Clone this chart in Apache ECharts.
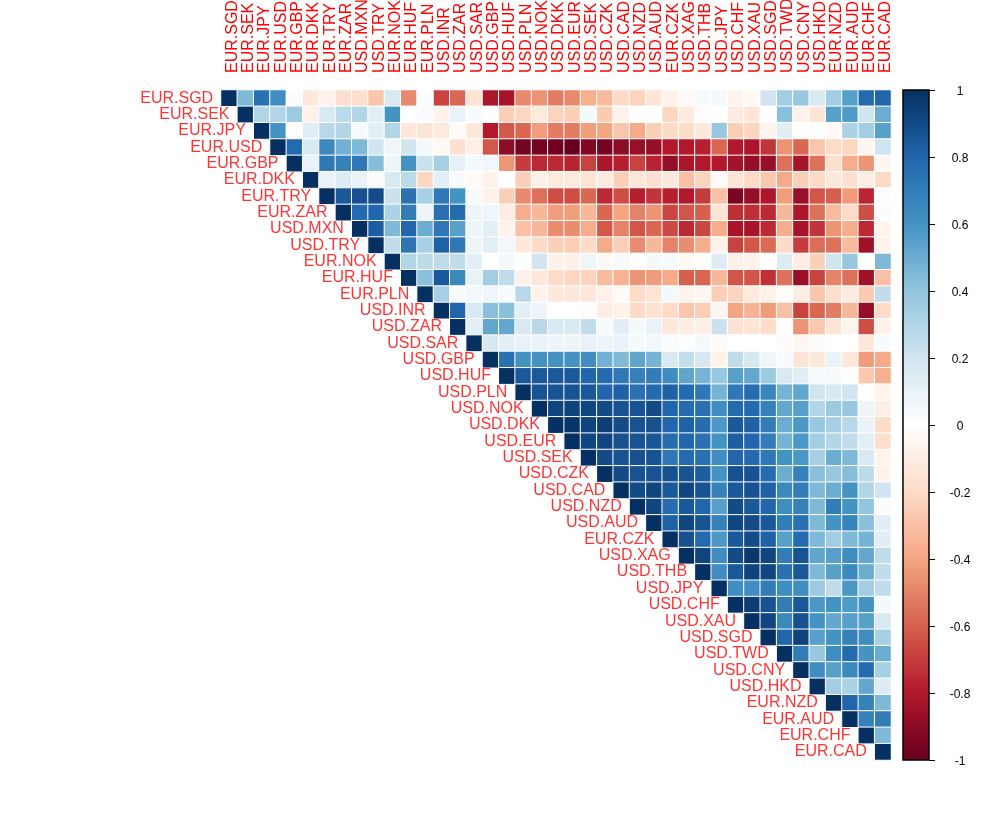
<!DOCTYPE html>
<html>
<head>
<meta charset="utf-8">
<title>Correlation matrix</title>
<script src="https://cdn.jsdelivr.net/npm/echarts@6/dist/echarts.min.js"></script>
<style>
    html, body { margin: 0; padding: 0; background: #fff; }
    #chart { width: 991px; height: 831px; }
</style>
</head>
<body>
<div id="chart"></div>
<script>
'use strict'

var labels = [
    'EUR.SGD', 'EUR.SEK', 'EUR.JPY', 'EUR.USD', 'EUR.GBP', 'EUR.DKK', 'EUR.TRY', 'EUR.ZAR', 'USD.MXN',
    'USD.TRY', 'EUR.NOK', 'EUR.HUF', 'EUR.PLN', 'USD.INR', 'USD.ZAR', 'USD.SAR', 'USD.GBP', 'USD.HUF',
    'USD.PLN', 'USD.NOK', 'USD.DKK', 'USD.EUR', 'USD.SEK', 'USD.CZK', 'USD.CAD', 'USD.NZD', 'USD.AUD',
    'EUR.CZK', 'USD.XAG', 'USD.THB', 'USD.JPY', 'USD.CHF', 'USD.XAU', 'USD.SGD', 'USD.TWD', 'USD.CNY',
    'USD.HKD', 'EUR.NZD', 'EUR.AUD', 'EUR.CHF', 'EUR.CAD'
];

// upper triangle, each row starts at the diagonal
var corrRows = [
    [1, .45, .75, .62, .02, -.13, -.08, -.17, -.18, -.28, .17, -.48, .02, -.68, -.58, -.15, -.82, -.83, -.48, -.45, -.52, -.48, -.36, -.32, -.2, -.23, -.15, -.08, -.03, .04, .05, -.06, -.04, .2, .35, .38, .17, .35, .55, .78, .8],
    [1, .3, .3, .37, -.08, .17, .27, .3, .13, .6, 0, .02, -.08, .1, .03, 0, -.25, -.22, -.12, -.23, -.25, .05, -.26, -.07, 0, .01, -.22, -.11, -.01, 0, -.11, -.15, .01, .42, -.07, -.15, .55, .57, .2, .5],
    [1, .6, -.01, .13, .28, .3, .04, .13, .3, -.13, -.15, -.12, -.03, -.13, -.8, -.62, -.58, -.42, -.52, -.52, -.42, -.4, -.28, -.38, -.24, -.2, -.19, -.13, .38, -.25, -.22, -.06, .13, -.01, .01, -.03, .32, .35, .55],
    [1, .78, .17, .65, .48, .45, .2, .07, .2, .05, -.04, -.17, -.09, -.62, -.9, -.97, -.97, -.98, -1, -.93, -.97, -.9, -.87, -.88, -.8, -.8, -.78, -.58, -.8, -.82, -.72, -.45, -.58, -.28, -.2, -.22, -.05, .2],
    [1, .1, .72, .68, .72, .43, .08, .6, .22, .33, .11, .05, .06, -.44, -.7, -.75, -.75, -.77, -.68, -.82, -.78, -.68, -.77, -.88, -.82, -.8, -.8, -.84, -.88, -.87, -.55, -.83, -.55, -.18, -.37, -.45, -.05],
    [1, .1, .15, .1, .02, .17, .27, -.22, .12, .03, -.03, -.08, 0, -.24, -.08, -.12, -.12, -.15, -.11, -.24, -.14, -.17, -.13, -.3, -.23, -.03, -.15, -.2, -.27, -.38, -.24, -.2, -.13, -.17, -.1, -.2],
    [1, .85, .88, .9, .22, .75, .33, .72, .6, .04, -.07, -.24, -.48, -.55, -.65, -.65, -.58, -.75, -.65, -.78, -.72, -.78, -.8, -.7, -.3, -.95, -.88, -.82, -.42, -.87, -.63, -.6, -.43, -.76, -.01],
    [1, .78, .8, .32, .7, .08, .75, .78, .08, .07, -.1, -.37, -.33, -.42, -.42, -.33, -.58, -.4, -.5, -.45, -.67, -.63, -.6, -.15, -.74, -.74, -.75, -.33, -.82, -.55, -.32, -.2, -.65, .02],
    [1, .83, .45, .8, .5, .72, .55, .08, .12, -.07, -.3, -.33, -.47, -.47, -.37, -.62, -.5, -.63, -.58, -.66, -.75, -.67, -.37, -.83, -.83, -.75, -.37, -.83, -.72, -.45, -.37, -.75, -.06],
    [1, .25, .73, .33, .82, .72, .08, .12, .06, -.13, -.2, -.24, -.25, -.2, -.38, -.25, -.47, -.33, -.5, -.47, -.37, -.07, -.68, -.62, -.57, -.2, -.7, -.56, -.55, -.32, -.85, -.06],
    [1, .3, .27, .26, .25, .12, 0, .05, .01, .2, -.08, -.08, .07, -.04, .04, 0, .05, .04, -.04, 0, .15, -.08, -.07, 0, .15, -.1, -.24, .2, .38, 0, .45],
    [1, .42, .85, .65, .1, .35, .25, -.07, -.13, -.2, -.22, -.23, -.32, -.35, -.45, -.43, -.38, -.6, -.58, -.33, -.63, -.63, -.73, -.55, -.87, -.68, -.5, -.55, -.85, -.3],
    [1, .33, .03, .06, .07, .03, .28, -.07, -.13, -.13, -.14, -.08, -.03, -.2, -.15, .05, -.07, -.05, -.25, -.23, -.12, -.08, -.01, -.1, -.28, -.18, -.11, -.26, .25],
    [1, .8, .17, .42, .42, .12, .08, 0, 0, -.01, -.1, -.08, -.2, -.16, -.2, -.28, -.25, -.05, -.4, -.35, -.43, -.3, -.68, -.58, -.52, -.33, -.88, -.2],
    [1, .12, .52, .52, .17, .28, .17, .17, .25, .04, .13, .05, .1, -.14, -.1, -.09, .22, -.16, -.15, -.19, -.01, -.45, -.27, -.15, -.06, -.65, -.08],
    [1, .18, .12, .1, .09, .08, .08, .1, .08, .1, .05, .06, .02, .01, .05, -.02, 0, 0, 0, -.02, -.05, -.02, 0, 0, -.14, .03],
    [1, .75, .6, .6, .6, .6, .62, .48, .45, .53, .47, .17, .24, .18, -.07, .25, .18, .07, .03, -.15, -.13, .1, -.13, -.43, -.38],
    [1, .85, .85, .85, .85, .8, .78, .72, .68, .7, .63, .53, .47, .38, .55, .52, .37, .17, .13, .04, .04, -.01, -.27, -.36],
    [1, .87, .87, .87, .85, .8, .82, .75, .78, .82, .78, .72, .47, .72, .77, .66, .47, .52, .2, .17, .2, 0, -.06],
    [1, .92, .93, .92, .9, .87, .87, .9, .8, .78, .75, .62, .78, .78, .68, .52, .55, .3, .37, .38, .08, -.09],
    [1, .98, .93, .95, .9, .87, .88, .8, .82, .77, .58, .85, .82, .7, .5, .58, .38, .33, .28, .1, -.19],
    [1, .92, .92, .88, .87, .86, .77, .8, .75, .6, .83, .8, .7, .47, .58, .35, .3, .25, .12, -.18],
    [1, .9, .87, .88, .87, .72, .78, .75, .62, .8, .78, .72, .6, .58, .33, .5, .45, .17, -.06],
    [1, .9, .87, .87, .88, .87, .83, .6, .88, .87, .77, .5, .68, .42, .38, .43, .27, -.07],
    [1, .9, .92, .85, .92, .87, .68, .85, .87, .82, .65, .7, .45, .5, .6, .3, .2],
    [1, .92, .77, .85, .8, .55, .9, .85, .8, .62, .68, .45, .7, .6, .4, .02],
    [1, .82, .92, .87, .68, .92, .9, .85, .7, .75, .45, .6, .67, .42, .13],
    [1, .88, .78, .58, .85, .9, .82, .55, .78, .45, .35, .45, .47, .13],
    [1, .92, .63, .9, .97, .92, .7, .87, .53, .55, .63, .52, .25],
    [1, .63, .85, .93, .92, .75, .85, .45, .55, .65, .5, .25],
    [1, .62, .62, .7, .62, .62, .37, .25, .58, .35, .25],
    [1, .95, .87, .7, .85, .58, .6, .57, .6, .05],
    [1, .92, .65, .88, .6, .52, .55, .55, .17],
    [1, .8, .93, .55, .6, .68, .63, .33],
    [1, .7, .38, .62, .78, .6, .5],
    [1, .62, .55, .65, .78, .33],
    [1, .35, .32, .52, .15],
    [1, .8, .68, .45],
    [1, .68, .7],
    [1, .45],
    [1]
];

var palette = ['#67001F', '#B2182B', '#D6604D', '#F4A582', '#FDDBC7', '#FFFFFF', '#D1E5F0', '#92C5DE', '#4393C3', '#2166AC', '#053061'];

var fontName = '"Liberation Sans", Arial, sans-serif';

function _buildCells() {
    var cells = [];
    corrRows.forEach(function(row, r) {
        row.forEach(function(value, k) {
            cells.push([labels[r + k], labels[r], value]);
        });
    });
    return cells;
}

function _buildDiagonal() {
    return labels.map(function(name) {
        return { value: [name, name], name: name };
    });
}

var chart = echarts.init(document.getElementById('chart'), null, { renderer: 'canvas' });

chart.setOption({
    animation: false,
    backgroundColor: '#fff',
    grid: [
        { left: 221, top: 90, width: 670, height: 670, outerBoundsMode: 'none' },
        { left: 903, top: 90, width: 26, height: 670, outerBoundsMode: 'none', show: true, z: 6, backgroundColor: 'transparent', borderColor: '#000', borderWidth: 1.5 }
    ],
    xAxis: [
        {
            type: 'category',
            gridIndex: 0,
            position: 'top',
            data: labels,
            axisLine: { show: false },
            axisTick: { show: false },
            splitLine: { show: false },
            axisLabel: {
                interval: 0,
                rotate: -90,
                margin: 17,
                align: 'left',
                verticalAlign: 'top',
                lineHeight: 6,
                color: '#ff0000',
                fontSize: 16,
                fontFamily: fontName,
                hideOverlap: false
            }
        },
        { type: 'category', gridIndex: 1, data: [''], axisLine: { show: false }, axisTick: { show: false }, axisLabel: { show: false } }
    ],
    yAxis: [
        {
            type: 'category',
            gridIndex: 0,
            inverse: true,
            data: labels,
            axisLine: { show: false },
            axisTick: { show: false },
            splitLine: { show: false },
            axisLabel: { show: false }
        },
        {
            type: 'value',
            gridIndex: 1,
            position: 'right',
            min: -1,
            max: 1,
            interval: 0.2,
            z: 6,
            axisLine: { show: false },
            splitLine: { show: false },
            axisTick: { show: true, length: 6, lineStyle: { color: '#000', width: 1 } },
            axisLabel: { margin: 31, align: 'center', verticalAlign: 'top', lineHeight: 4, color: '#000', fontSize: 12, fontFamily: fontName }
        }
    ],
    visualMap: {
        type: 'continuous',
        seriesIndex: 0,
        dimension: 2,
        min: -1,
        max: 1,
        left: 903,
        top: 90,
        itemWidth: 26,
        itemHeight: 670,
        padding: 0,
        calculable: false,
        hoverLink: false,
        text: null,
        showLabel: false,
        z: 1,
        inRange: { color: palette }
    },
    series: [
        {
            type: 'heatmap',
            xAxisIndex: 0,
            yAxisIndex: 0,
            data: _buildCells(),
            itemStyle: { borderColor: '#fff', borderWidth: 1 },
            emphasis: { disabled: true }
        },
        {
            type: 'scatter',
            xAxisIndex: 0,
            yAxisIndex: 0,
            symbolSize: 0,
            silent: true,
            data: _buildDiagonal(),
            label: {
                show: true,
                position: 'left',
                distance: 16,
                offset: [0, 1],
                color: '#ff0000',
                fontSize: 16,
                fontFamily: fontName,
                formatter: '{b}'
            },
            labelLayout: { hideOverlap: false }
        }
    ]
});
</script>
</body>
</html>
